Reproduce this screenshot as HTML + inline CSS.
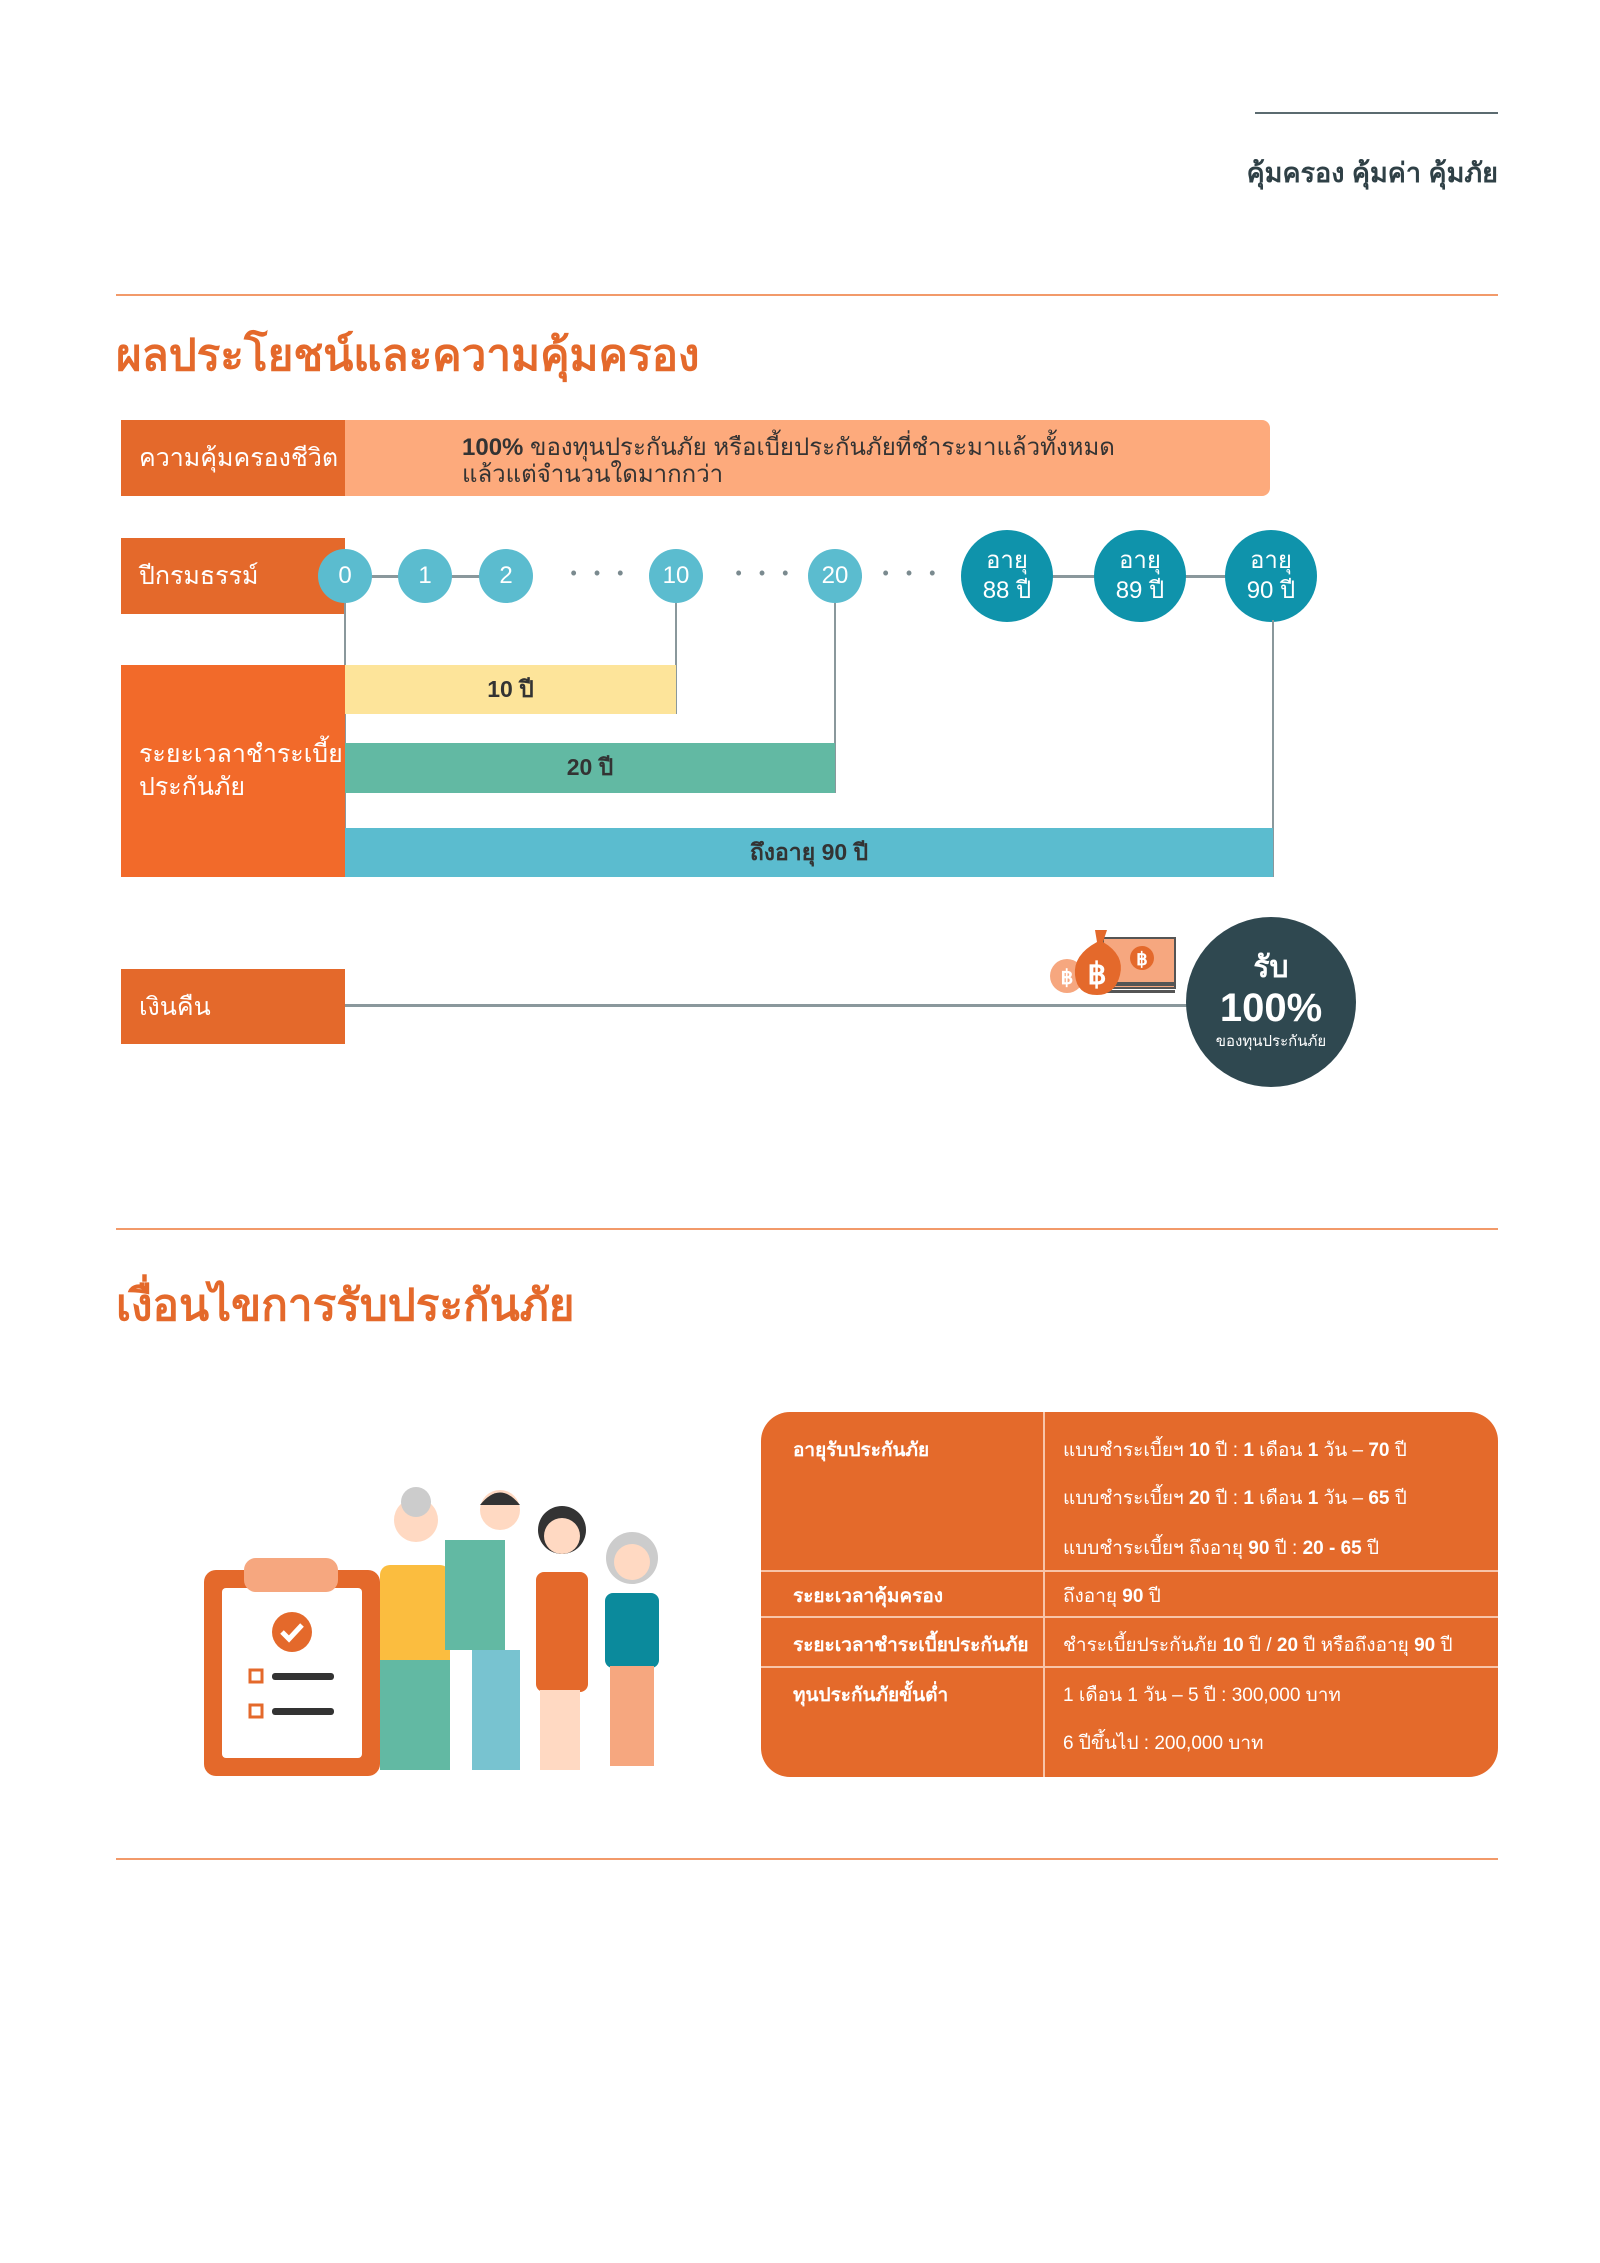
<!DOCTYPE html>
<html><head><meta charset="utf-8"><style>
body{margin:0;width:1600px;height:2263px;background:#fff;position:relative;overflow:hidden;font-family:"Liberation Sans","Noto Sans CJK SC",sans-serif;}
.a{position:absolute;}
.lbl{position:absolute;background:#e4692b;color:#fff;font-size:25px;display:flex;align-items:center;padding-left:18px;box-sizing:border-box;}
.c{position:absolute;border-radius:50%;color:#fff;display:flex;align-items:center;justify-content:center;text-align:center;font-size:24px;}
.s{width:54px;height:54px;background:#5bbccf;}
.b{width:92px;height:92px;background:#0f93ab;line-height:30px;}
.bar{position:absolute;display:flex;align-items:center;justify-content:center;color:#333;font-size:23px;font-weight:bold;}
.t{position:absolute;color:#fff;font-size:19px;}
</style></head><body>
<div class="a" style="left:1255px;top:112px;width:243px;height:2px;background:#5b6b70"></div>
<div class="a" style="right:102px;top:151px;font-size:27px;font-weight:bold;color:#2f4046">คุ้มครอง คุ้มค่า คุ้มภัย</div>
<div class="a" style="left:116px;top:294px;width:1382px;height:2px;background:#f29a6a"></div>
<div class="a" style="left:116px;top:320px;font-size:44px;font-weight:bold;color:#e4692b">ผลประโยชน์และความคุ้มครอง</div>

<div class="a" style="left:121px;top:420px;width:1149px;height:76px;background:#fdaa7c;border-radius:0 8px 8px 0"></div>
<div class="lbl" style="left:121px;top:420px;width:224px;height:76px">ความคุ้มครองชีวิต</div>
<div class="a" style="left:462px;top:434px;font-size:24px;line-height:27px;color:#333"><b>100%</b> ของทุนประกันภัย หรือเบี้ยประกันภัยที่ชำระมาแล้วทั้งหมด<br>แล้วแต่จำนวนใดมากกว่า</div>

<div class="lbl" style="left:121px;top:538px;width:224px;height:76px">ปีกรมธรรม์</div>
<div class="a" style="left:345px;top:575px;width:926px;height:3px;background:#8a989c"></div>
<div class="a" style="left:530px;top:570px;width:140px;height:14px;background:#fff;text-align:center;font-size:18px;line-height:6px;color:#7a8a8f;letter-spacing:6px">• • •</div>
<div class="a" style="left:700px;top:570px;width:130px;height:14px;background:#fff;text-align:center;font-size:18px;line-height:6px;color:#7a8a8f;letter-spacing:6px">• • •</div>
<div class="a" style="left:862px;top:570px;width:100px;height:14px;background:#fff;text-align:center;font-size:18px;line-height:6px;color:#7a8a8f;letter-spacing:6px">• • •</div>
<div class="c s" style="left:318px;top:549px">0</div>
<div class="c s" style="left:398px;top:549px">1</div>
<div class="c s" style="left:479px;top:549px">2</div>
<div class="c s" style="left:649px;top:549px">10</div>
<div class="c s" style="left:808px;top:549px">20</div>
<div class="c b" style="left:961px;top:530px">อายุ<br>88 ปี</div>
<div class="c b" style="left:1094px;top:530px">อายุ<br>89 ปี</div>
<div class="c b" style="left:1225px;top:530px">อายุ<br>90 ปี</div>

<div class="a" style="left:344px;top:603px;width:2px;height:274px;background:#8a989c"></div>
<div class="a" style="left:675px;top:603px;width:2px;height:111px;background:#8a989c"></div>
<div class="a" style="left:834px;top:603px;width:2px;height:190px;background:#8a989c"></div>
<div class="a" style="left:1272px;top:620px;width:2px;height:257px;background:#8a989c"></div>

<div class="lbl" style="left:121px;top:665px;width:224px;height:212px;background:#f26a2a;line-height:33px">ระยะเวลาชำระเบี้ย<br>ประกันภัย</div>
<div class="bar" style="left:345px;top:665px;width:331px;height:49px;background:#fde49a">10 ปี</div>
<div class="bar" style="left:345px;top:743px;width:490px;height:50px;background:#62b9a3">20 ปี</div>
<div class="bar" style="left:345px;top:828px;width:928px;height:49px;background:#5bbccf">ถึงอายุ 90 ปี</div>

<div class="lbl" style="left:121px;top:969px;width:224px;height:75px">เงินคืน</div>
<div class="a" style="left:345px;top:1004px;width:850px;height:3px;background:#8a989c"></div>
<svg class="a" style="left:1045px;top:920px" width="135" height="80">
<rect x="58" y="18" width="72" height="50" fill="#f6a77f" stroke="#555" stroke-width="2"/>
<rect x="58" y="62" width="72" height="4" fill="#555"/><rect x="58" y="70" width="72" height="3" fill="#555"/>
<circle cx="97" cy="38" r="12" fill="#e4692b"/><text x="97" y="45" font-size="18" fill="#fff" text-anchor="middle" font-weight="bold">฿</text>
<circle cx="22" cy="56" r="17" fill="#f6a77f"/><text x="22" y="64" font-size="20" fill="#fff" text-anchor="middle" font-weight="bold">฿</text>
<path d="M50 10 L62 10 L58 22 Q80 35 75 55 Q70 75 52 75 Q32 75 30 55 Q28 35 52 22 Z" fill="#e4692b"/>
<text x="52" y="64" font-size="30" fill="#fff" text-anchor="middle" font-weight="bold">฿</text>
</svg>
<div class="c" style="left:1186px;top:917px;width:170px;height:170px;background:#2f4850;flex-direction:column">
<div style="font-size:30px;font-weight:bold;line-height:34px">รับ</div>
<div style="font-size:40px;font-weight:bold;line-height:46px">100%</div>
<div style="font-size:15px;line-height:22px">ของทุนประกันภัย</div></div>

<div class="a" style="left:116px;top:1228px;width:1382px;height:2px;background:#f29a6a"></div>
<div class="a" style="left:116px;top:1270px;font-size:44px;font-weight:bold;color:#e4692b">เงื่อนไขการรับประกันภัย</div>

<svg class="a" style="left:200px;top:1480px" width="490" height="300">
<rect x="4" y="90" width="176" height="206" rx="12" fill="#e4692b"/>
<rect x="22" y="108" width="140" height="170" rx="4" fill="#fff"/>
<rect x="44" y="78" width="94" height="34" rx="12" fill="#f6a77f"/>
<circle cx="92" cy="152" r="20" fill="#e4692b"/><path d="M82 152 l7 7 l13 -14" stroke="#fff" stroke-width="5" fill="none"/>
<rect x="50" y="190" width="12" height="12" fill="none" stroke="#e4692b" stroke-width="3"/><rect x="72" y="193" width="62" height="7" rx="3" fill="#333"/>
<rect x="50" y="225" width="12" height="12" fill="none" stroke="#e4692b" stroke-width="3"/><rect x="72" y="228" width="62" height="7" rx="3" fill="#333"/>
<circle cx="216" cy="40" r="22" fill="#ffd9c2"/><circle cx="216" cy="22" r="15" fill="#ccc"/>
<rect x="180" y="85" width="70" height="105" rx="10" fill="#fbbd3f"/>
<rect x="180" y="180" width="70" height="110" fill="#62b9a3"/>
<rect x="245" y="60" width="60" height="110" fill="#62b9a3"/>
<circle cx="300" cy="30" r="20" fill="#ffd9c2"/><path d="M280 25 q20 -25 40 0 z" fill="#333"/>
<rect x="272" y="170" width="48" height="120" fill="#78c3d0"/>
<circle cx="362" cy="50" r="24" fill="#333"/><circle cx="362" cy="56" r="18" fill="#ffd9c2"/>
<rect x="336" y="92" width="52" height="120" rx="8" fill="#e4692b"/>
<rect x="340" y="210" width="40" height="80" fill="#ffd9c2"/>
<circle cx="432" cy="78" r="26" fill="#ccc"/><circle cx="432" cy="82" r="18" fill="#ffd9c2"/>
<rect x="405" y="113" width="54" height="75" rx="8" fill="#0b8a9c"/>
<rect x="410" y="186" width="44" height="100" fill="#f6a77f"/>
</svg>

<div class="a" style="left:761px;top:1412px;width:737px;height:365px;background:#e46a2b;border-radius:29px"></div>
<div class="a" style="left:1043px;top:1412px;width:2px;height:365px;background:#f8c4a8"></div>
<div class="a" style="left:761px;top:1570px;width:737px;height:2px;background:#f8c4a8"></div>
<div class="a" style="left:761px;top:1616px;width:737px;height:2px;background:#f8c4a8"></div>
<div class="a" style="left:761px;top:1666px;width:737px;height:2px;background:#f8c4a8"></div>
<div class="t" style="left:793px;top:1435px;font-weight:bold">อายุรับประกันภัย</div>
<div class="t" style="left:1063px;top:1435px">แบบชำระเบี้ยฯ <b>10</b> ปี : <b>1</b> เดือน <b>1</b> วัน – <b>70</b> ปี</div>
<div class="t" style="left:1063px;top:1483px">แบบชำระเบี้ยฯ <b>20</b> ปี : <b>1</b> เดือน <b>1</b> วัน – <b>65</b> ปี</div>
<div class="t" style="left:1063px;top:1533px">แบบชำระเบี้ยฯ ถึงอายุ <b>90</b> ปี : <b>20 - 65</b> ปี</div>
<div class="t" style="left:793px;top:1581px;font-weight:bold">ระยะเวลาคุ้มครอง</div>
<div class="t" style="left:1063px;top:1581px">ถึงอายุ <b>90</b> ปี</div>
<div class="t" style="left:793px;top:1630px;font-weight:bold">ระยะเวลาชำระเบี้ยประกันภัย</div>
<div class="t" style="left:1063px;top:1630px">ชำระเบี้ยประกันภัย <b>10</b> ปี / <b>20</b> ปี หรือถึงอายุ <b>90</b> ปี</div>
<div class="t" style="left:793px;top:1680px;font-weight:bold">ทุนประกันภัยขั้นต่ำ</div>
<div class="t" style="left:1063px;top:1680px">1 เดือน 1 วัน – 5 ปี : 300,000 บาท</div>
<div class="t" style="left:1063px;top:1728px">6 ปีขึ้นไป : 200,000 บาท</div>

<div class="a" style="left:116px;top:1858px;width:1382px;height:2px;background:#f29a6a"></div>
</body></html>
